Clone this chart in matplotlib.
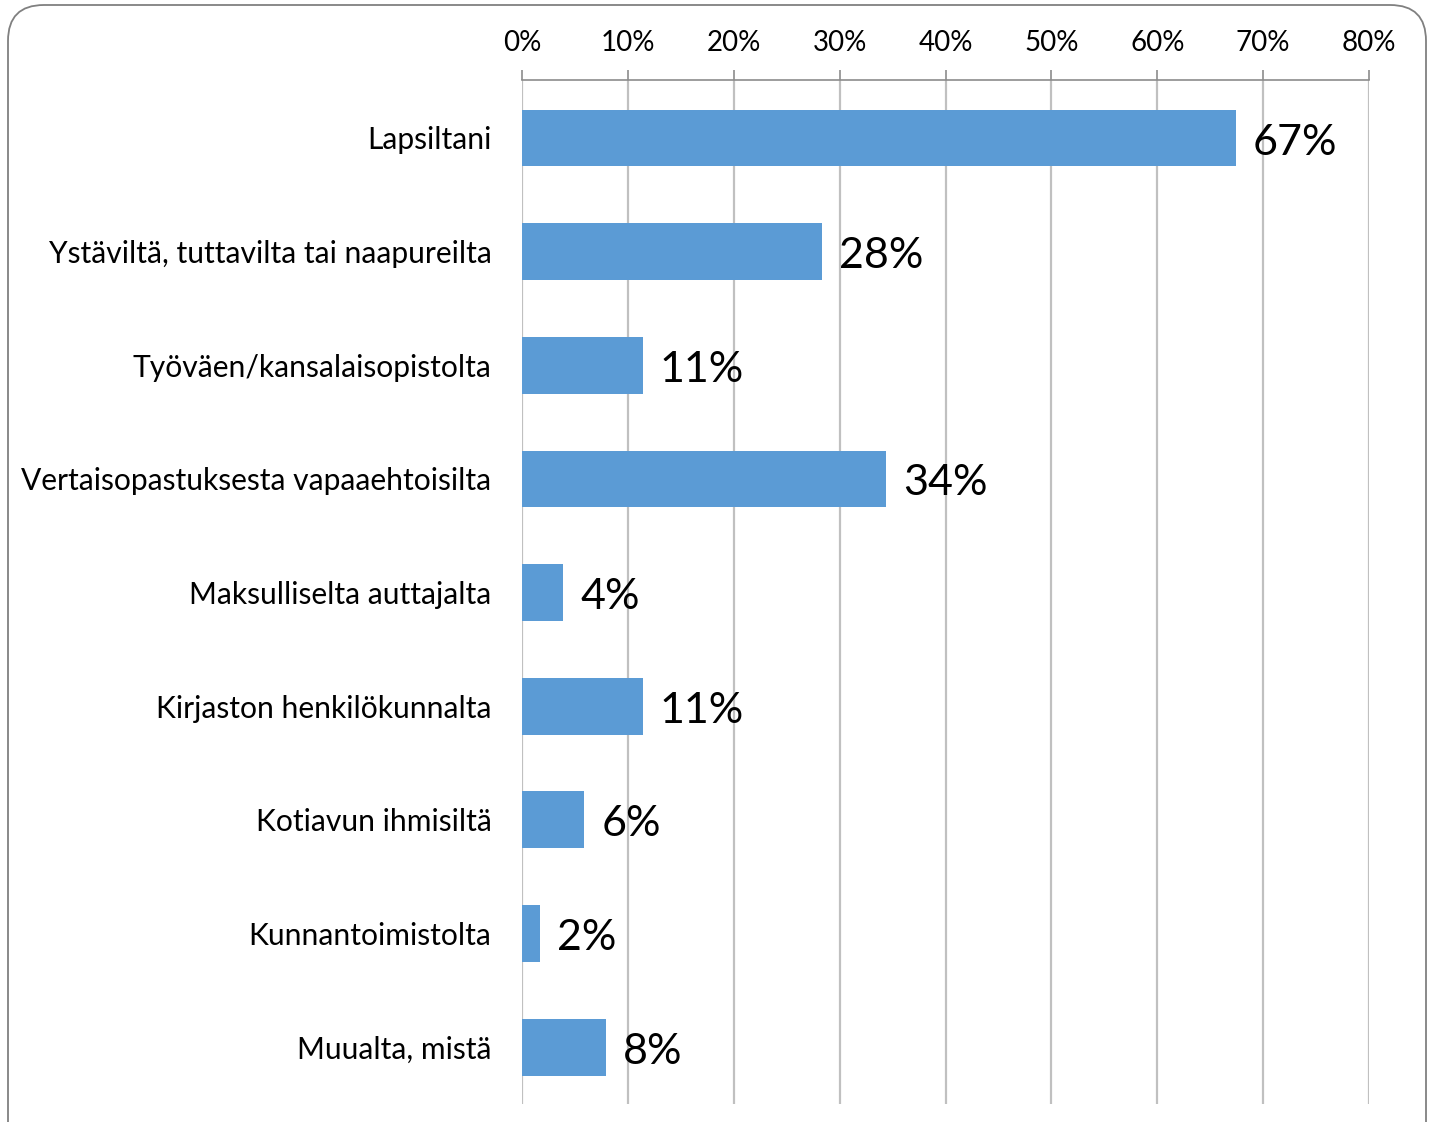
import numpy as np
import matplotlib.pyplot as plt
from matplotlib.patches import FancyBboxPatch

plt.rcParams['font.family'] = ['Lato', 'DejaVu Sans']

categories = ['Lapsiltani',
              'Ystäviltä, tuttavilta tai naapureilta',
              'Työväen/kansalaisopistolta',
              'Vertaisopastuksesta vapaaehtoisilta',
              'Maksulliselta auttajalta',
              'Kirjaston henkilökunnalta',
              'Kotiavun ihmisiltä',
              'Kunnantoimistolta',
              'Muualta, mistä']
values = [67.4, 28.3, 11.4, 34.4, 3.9, 11.4, 5.9, 1.7, 7.9]
xticks = [0, 10, 20, 30, 40, 50, 60, 70, 80]

fig = plt.figure(figsize=(14.33, 11.22), dpi=100)
ax = fig.add_axes([522/1433, 18/1122, 847/1433, 1024/1122])

y = np.arange(len(categories))
ax.barh(y, values, height=0.5, color='#5B9BD5', zorder=3)
for yi, v in zip(y, values):
    ax.text(v + 1.6, yi + 0.04, '{:d}%'.format(int(round(v))), va='center', ha='left',
            fontsize=31, zorder=4)

ax.set_xlim(0, 80)
ax.set_ylim(8.5, -0.51)
ax.set_yticks(y)
ax.set_yticklabels(categories, fontsize=21.6)
ax.tick_params(axis='y', length=0, pad=22)
ax.xaxis.tick_top()
ax.set_xticks(xticks)
ax.set_xticklabels(['{}%'.format(t) for t in xticks], fontsize=20)
ax.tick_params(axis='x', length=7, width=1.2, color='#8c8c8c', pad=10)
ax.grid(axis='x', color='#c0c0c0', lw=1.6, zorder=0)
ax.grid(axis='y', visible=False)
for s in ['left', 'right', 'bottom']:
    ax.spines[s].set_visible(False)
ax.spines['top'].set_color('#8c8c8c')
ax.spines['top'].set_linewidth(1.2)
ax.set_facecolor('white')

# rounded frame around the chart
box = FancyBboxPatch((8/1433, -0.05), 1418/1433, 1.05 - 5/1122,
                     boxstyle='round,pad=0,rounding_size=0.025',
                     transform=fig.transFigure, fill=False,
                     edgecolor='#808080', lw=1.3, zorder=0,
                     mutation_aspect=1433/1122)
fig.patches.append(box)

plt.savefig('out.png', dpi=100)
